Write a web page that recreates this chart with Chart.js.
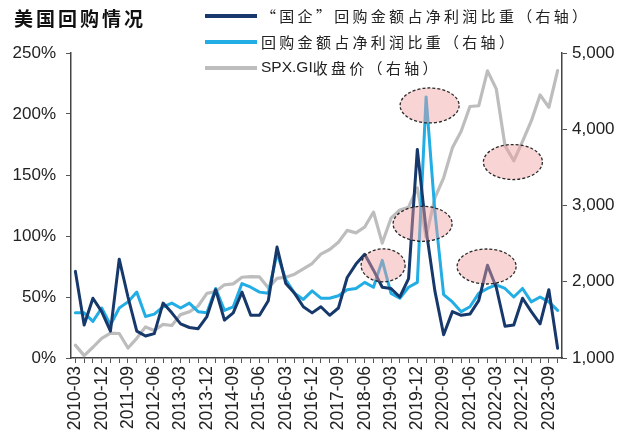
<!DOCTYPE html>
<html>
<head>
<meta charset="utf-8">
<script src="https://cdn.jsdelivr.net/npm/chart.js@4.4.0/dist/chart.umd.min.js"></script>
<style>
  html, body { margin: 0; padding: 0; background: #fff; }
  #chart { display: block; }
</style>
</head>
<body>
<canvas id="chart" width="624" height="443"></canvas>
<script>
// quarterly labels, 2010Q1 - 2023Q4
const quarters = [
    '2010-03', '2010-06', '2010-09', '2010-12', '2011-03', '2011-06', '2011-09', '2011-12',
    '2012-03', '2012-06', '2012-09', '2012-12', '2013-03', '2013-06', '2013-09', '2013-12',
    '2014-03', '2014-06', '2014-09', '2014-12', '2015-03', '2015-06', '2015-09', '2015-12',
    '2016-03', '2016-06', '2016-09', '2016-12', '2017-03', '2017-06', '2017-09', '2017-12',
    '2018-03', '2018-06', '2018-09', '2018-12', '2019-03', '2019-06', '2019-09', '2019-12',
    '2020-03', '2020-06', '2020-09', '2020-12', '2021-03', '2021-06', '2021-09', '2021-12',
    '2022-03', '2022-06', '2022-09', '2022-12', '2023-03', '2023-06', '2023-09', '2023-12'
];

// "国企" buyback / net profit (%)
const soeRatio = [
    71, 27, 49, 38, 22, 81, 50, 22, 18, 20, 45, 37, 28, 25, 24, 34,
    56, 31, 37, 54, 35, 35, 47, 91, 61, 53, 42, 37, 42, 35, 41, 66,
    77, 85, 72, 58, 57, 50, 65, 171, 105, 55, 19, 38, 35, 36, 47, 76,
    58, 26, 27, 49, 38, 28, 56, 8
];

// buyback / net profit (%)
const buybackRatio = [
    37, 37, 30, 41, 27, 41, 46, 54, 34, 36, 42, 45, 41, 45, 38, 37,
    57, 39, 42, 61, 58, 54, 53, 86, 64, 53, 48, 55, 49, 49, 51, 56,
    57, 62, 58, 80, 53, 49, 58, 62, 214, 120, 52, 46, 38, 42, 53, 57,
    60, 57, 50, 57, 46, 50, 46, 39
];

// SPX.GI close (right axis)
const spxClose = [
    1169, 1031, 1141, 1258, 1326, 1321, 1131, 1258, 1408, 1362, 1441, 1426, 1569, 1606, 1682, 1848,
    1872, 1960, 1972, 2059, 2068, 2063, 1920, 2044, 2060, 2099, 2168, 2239, 2363, 2423, 2519, 2674,
    2641, 2718, 2914, 2507, 2834, 2942, 2977, 3231, 2585, 3100, 3363, 3756, 3973, 4298, 4308, 4766,
    4530, 3785, 3586, 3840, 4109, 4450, 4288, 4770
];

const pctTicks = [0, 50, 100, 150, 200, 250];
const spxTicks = [1000, 2000, 3000, 4000, 5000];

// highlighted spots (category index, axis value)
const highlights = [
    { index: 35.1, value: 76, axis: 'y' },
    { index: 40.4, value: 207, axis: 'y' },
    { index: 39.6, value: 110, axis: 'y' },
    { index: 49.9, value: 3570, axis: 'y1' },
    { index: 46.9, value: 75, axis: 'y' }
];

const latin = '"Liberation Sans", Arial, sans-serif';
const cjk = '"Noto Sans CJK SC", sans-serif';

// latin runs plain, CJK runs letter-spaced (like the original legend)
function drawMixed(ctx, text, x, y) {
    const runs = text.match(/[\x20-\x7e]+|[^\x20-\x7e]+/g) || [];
    runs.forEach(run => {
        const ascii = /^[\x20-\x7e]+$/.test(run);
        ctx.font = ascii ? '15.5px ' + latin : '15px ' + cjk;
        ctx.letterSpacing = ascii ? '0px' : '3.3px';
        ctx.fillText(run, x, y);
        x += ctx.measureText(run).width;
    });
}

const decor = {
    id: 'decor',
    afterDatasetsDraw(chart) {
        const ctx = chart.ctx;
        const x = chart.scales.x;
        ctx.save();
        highlights.forEach((h, i) => {
            const cx = x.getPixelForValue(h.index);
            const cy = chart.scales[h.axis].getPixelForValue(h.value);
            const rx = i === 0 ? 22 : 29.5;
            const ry = i === 0 ? 16.5 : 17.5;
            ctx.beginPath();
            ctx.ellipse(cx, cy, rx, ry, 0, 0, Math.PI * 2);
            ctx.fillStyle = 'rgba(240, 160, 160, 0.45)';
            ctx.fill();
            ctx.setLineDash([3, 2]);
            ctx.lineWidth = 1.3;
            ctx.strokeStyle = '#2a2a2a';
            ctx.stroke();
        });
        ctx.restore();
    },
    afterDraw(chart) {
        const ctx = chart.ctx;
        ctx.save();
        // title
        ctx.fillStyle = '#111';
        ctx.textBaseline = 'middle';
        ctx.font = 'bold 19px ' + cjk;
        ctx.letterSpacing = '3px';
        ctx.fillText('美国回购情况', 14, 19);

        // legend
        const rows = [16, 42, 68];
        chart.data.datasets.forEach((ds, i) => {
            const y = rows[i];
            ctx.beginPath();
            ctx.setLineDash([]);
            ctx.lineWidth = 4;
            ctx.strokeStyle = ds.borderColor;
            ctx.moveTo(205, y);
            ctx.lineTo(257, y);
            ctx.stroke();
            ctx.fillStyle = '#222';
            drawMixed(ctx, ds.label, 261, y);
        });
        ctx.restore();
    }
};

const ctx = document.getElementById('chart').getContext('2d');
new Chart(ctx, {
    type: 'line',
    data: {
        labels: quarters,
        datasets: [
            {
                label: '“国企”回购金额占净利润比重（右轴）',
                data: soeRatio,
                borderColor: '#16386b',
                borderWidth: 3,
                yAxisID: 'y'
            },
            {
                label: '回购金额占净利润比重（右轴）',
                data: buybackRatio,
                borderColor: '#22ade4',
                borderWidth: 3,
                yAxisID: 'y'
            },
            {
                label: 'SPX.GI收盘价（右轴）',
                data: spxClose,
                borderColor: '#bdbdbd',
                borderWidth: 3.2,
                yAxisID: 'y1'
            }
        ]
    },
    options: {
        responsive: false,
        animation: false,
        elements: {
            point: { radius: 0 },
            line: { tension: 0, borderJoinStyle: 'round', borderCapStyle: 'round' }
        },
        layout: { padding: { top: 53, left: 0, right: 0, bottom: 0 } },
        plugins: {
            legend: { display: false },
            tooltip: { enabled: false }
        },
        scales: {
            x: {
                offset: true,
                grid: { drawOnChartArea: false, drawTicks: true, tickLength: 5, color: '#555', lineWidth: 1 },
                border: { color: '#444', width: 1.5 },
                ticks: {
                    autoSkip: false,
                    maxRotation: 90,
                    minRotation: 90,
                    padding: 3,
                    color: '#222',
                    font: { family: latin, size: 17.5 },
                    callback: (v, i) => (i % 3 === 0 ? quarters[i] : '')
                },
                afterFit: s => { s.height = 85; }
            },
            y: {
                position: 'left',
                min: 0,
                max: 250,
                afterBuildTicks: s => { s.ticks = pctTicks.map(v => ({ value: v })); },
                grid: { drawOnChartArea: false, tickLength: 5, color: '#555' },
                border: { color: '#444', width: 1.5 },
                ticks: {
                    color: '#222',
                    padding: 10,
                    font: { family: latin, size: 17 },
                    callback: v => v + '%'
                },
                afterFit: s => { s.width = 71; }
            },
            y1: {
                position: 'right',
                min: 1000,
                max: 5000,
                afterBuildTicks: s => { s.ticks = spxTicks.map(v => ({ value: v })); },
                grid: { drawOnChartArea: false, tickLength: 5, color: '#555' },
                border: { color: '#444', width: 1.5 },
                ticks: {
                    color: '#222',
                    padding: 5,
                    font: { family: latin, size: 17 },
                    callback: v => v.toLocaleString('en-US')
                },
                afterFit: s => { s.width = 62; }
            }
        }
    },
    plugins: [decor]
});
</script>
</body>
</html>
